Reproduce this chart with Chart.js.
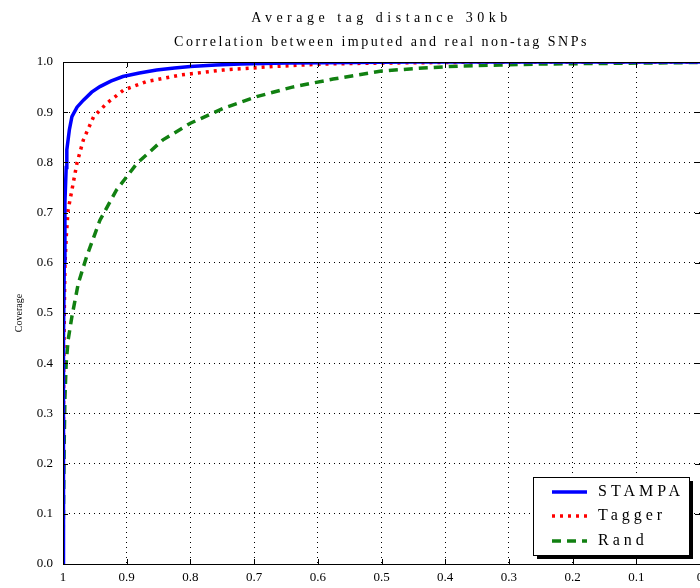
<!DOCTYPE html>
<html>
<head>
<meta charset="utf-8">
<script src="https://cdn.jsdelivr.net/npm/chart.js@4/dist/chart.umd.min.js"></script>
<style>
  html, body { margin: 0; padding: 0; background: #fff; overflow: hidden; width: 700px; height: 588px; }
  canvas { display: block; }
</style>
</head>
<body>
<canvas id="c" width="720" height="588"></canvas>
<script>
// ---- data ----
const titleLines = ['Average tag distance 30kb', 'Correlation between imputed and real non-tag SNPs'];
const yAxisTitle = 'Coverage';
const seriesNames = ['STAMPA', 'Tagger', 'Rand'];
const xTickLabels = ['0', '0.1', '0.2', '0.3', '0.4', '0.5', '0.6', '0.7', '0.8', '0.9', '1'];
const yTickLabels = ['0.0', '0.1', '0.2', '0.3', '0.4', '0.5', '0.6', '0.7', '0.8', '0.9', '1.0'];

const stampaX = [1.0, 0.9995, 0.999, 0.998, 0.997, 0.995, 0.994, 0.99, 0.986, 0.978, 0.968, 0.955, 0.942, 0.925, 0.906, 0.88, 0.853, 0.825, 0.8, 0.76, 0.722, 0.65, 0.55, 0.45, 0.3, 0.0];
const stampaY = [0.0, 0.25, 0.45, 0.6, 0.72, 0.79, 0.825, 0.865, 0.891, 0.91, 0.924, 0.94, 0.951, 0.962, 0.971, 0.978, 0.984, 0.988, 0.991, 0.994, 0.996, 0.998, 0.999, 1.0, 1.0, 1.0];

const taggerX = [1.0, 0.9995, 0.999, 0.998, 0.997, 0.995, 0.992, 0.986, 0.978, 0.968, 0.952, 0.931, 0.905, 0.869, 0.816, 0.749, 0.67, 0.592, 0.5, 0.4, 0.3, 0.2, 0.0];
const taggerY = [0.0, 0.2, 0.38, 0.5, 0.592, 0.65, 0.705, 0.745, 0.799, 0.845, 0.891, 0.918, 0.944, 0.961, 0.974, 0.984, 0.991, 0.996, 0.998, 0.999, 1.0, 1.0, 1.0];

const randX = [1.0, 0.9995, 0.999, 0.998, 0.997, 0.995, 0.992, 0.986, 0.976, 0.963, 0.942, 0.916, 0.884, 0.843, 0.8, 0.748, 0.696, 0.64, 0.576, 0.5, 0.435, 0.377, 0.314, 0.251, 0.168, 0.078, 0.0];
const randY = [0.0, 0.08, 0.14, 0.25, 0.33, 0.40, 0.446, 0.493, 0.559, 0.612, 0.685, 0.745, 0.798, 0.845, 0.878, 0.908, 0.931, 0.95, 0.966, 0.982, 0.988, 0.992, 0.994, 0.996, 0.997, 0.998, 0.999];

const toPts = (xs, ys) => xs.map((x, i) => ({ x: x, y: ys[i] }));

const SERIF = '"Liberation Serif", "DejaVu Serif", serif';

// ---- plugins ----
const titlePlugin = {
  id: 'matlabTitle',
  afterDraw(chart) {
    const { ctx, chartArea } = chart;
    const cx = (chartArea.left + chartArea.right) / 2;
    ctx.save();
    ctx.fillStyle = '#000';
    ctx.textAlign = 'center';
    ctx.textBaseline = 'middle';
    ctx.font = '14px ' + SERIF;
    const spacing = ['4.5px', '2.5px'];
    const ys = [18, 42];
    titleLines.forEach((t, i) => {
      if ('letterSpacing' in ctx) ctx.letterSpacing = spacing[i];
      ctx.fillText(t, cx, ys[i]);
    });
    ctx.restore();
  }
};

const framePlugin = {
  id: 'frame',
  afterDatasetsDraw(chart) {
    const { ctx, chartArea, scales } = chart;
    ctx.save();
    ctx.strokeStyle = '#000';
    ctx.lineWidth = 1;
    ctx.strokeRect(chartArea.left + 0.5, chartArea.top + 0.5, chartArea.right - chartArea.left, chartArea.bottom - chartArea.top);
    ctx.beginPath();
    scales.x.ticks.forEach(t => {
      const px = Math.round(scales.x.getPixelForValue(t.value)) + 0.5;
      ctx.moveTo(px, chartArea.bottom); ctx.lineTo(px, chartArea.bottom - 5);
      ctx.moveTo(px, chartArea.top); ctx.lineTo(px, chartArea.top + 5);
    });
    scales.y.ticks.forEach(t => {
      const py = Math.round(scales.y.getPixelForValue(t.value)) + 0.5;
      ctx.moveTo(chartArea.left, py); ctx.lineTo(chartArea.left + 5, py);
      ctx.moveTo(chartArea.right, py); ctx.lineTo(chartArea.right - 5, py);
    });
    ctx.stroke();
    ctx.restore();
  }
};

const legendPlugin = {
  id: 'matlabLegend',
  afterDraw(chart) {
    const { ctx, chartArea } = chart;
    const w = 156, h = 78;
    const right = chartArea.right - 11, bottom = chartArea.bottom - 9;
    const left = right - w, top = bottom - h;
    ctx.save();
    ctx.fillStyle = '#000';
    ctx.fillRect(left + 4, top + 4, w, h);
    ctx.fillStyle = '#fff';
    ctx.fillRect(left, top, w, h);
    ctx.strokeStyle = '#000';
    ctx.lineWidth = 1;
    ctx.strokeRect(left + 0.5, top + 0.5, w, h);
    const rows = [15, 39, 64];
    chart.data.datasets.forEach((ds, i) => {
      const y = top + rows[i];
      ctx.beginPath();
      ctx.strokeStyle = ds.borderColor;
      ctx.lineWidth = ds.borderWidth;
      ctx.setLineDash(ds.borderDash || []);
      ctx.moveTo(left + 19, y);
      ctx.lineTo(left + 54, y);
      ctx.stroke();
      ctx.setLineDash([]);
      ctx.fillStyle = '#000';
      ctx.font = '16px ' + SERIF;
      ctx.textAlign = 'left';
      ctx.textBaseline = 'middle';
      if ('letterSpacing' in ctx) ctx.letterSpacing = '4px';
      ctx.fillText(ds.label, left + 65, y);
    });
    ctx.restore();
  }
};

new Chart(document.getElementById('c'), {
  type: 'line',
  data: {
    datasets: [
      { label: seriesNames[0], data: toPts(stampaX, stampaY), borderColor: '#0000ff', borderWidth: 3.5, borderDash: [], pointRadius: 0, tension: 0, fill: false },
      { label: seriesNames[1], data: toPts(taggerX, taggerY), borderColor: '#ff0000', borderWidth: 3.5, borderDash: [3, 5], pointRadius: 0, tension: 0, fill: false },
      { label: seriesNames[2], data: toPts(randX, randY), borderColor: '#118011', borderWidth: 3.5, borderDash: [9, 6], pointRadius: 0, tension: 0, fill: false }
    ]
  },
  options: {
    responsive: false,
    animation: false,
    layout: { padding: { top: 62, right: 20, left: 0, bottom: 0 } },
    plugins: { legend: { display: false }, title: { display: false }, tooltip: { enabled: false } },
    scales: {
      x: {
        type: 'linear', min: 0, max: 1, reverse: true,
        afterFit: s => { s.height = 24; },
        ticks: { stepSize: 0.1, color: '#000', font: { family: SERIF, size: 13 }, padding: 6, maxRotation: 0, autoSkip: false,
                 callback: v => xTickLabels[Math.round(v * 10)] },
        grid: { color: '#000', lineWidth: 1, drawTicks: false, borderDash: [1, 4] },
        border: { display: true, color: '#000', width: 1, dash: [1, 4] }
      },
      y: {
        type: 'linear', min: 0, max: 1,
        afterFit: s => { s.width = 63; },
        ticks: { stepSize: 0.1, color: '#000', font: { family: SERIF, size: 13 }, padding: 10,
                 callback: v => yTickLabels[Math.round(v * 10)] },
        grid: { color: '#000', lineWidth: 1, drawTicks: false, borderDash: [1, 4] },
        border: { display: true, color: '#000', width: 1, dash: [1, 4] },
        title: { display: true, text: yAxisTitle, color: '#000', font: { family: SERIF, size: 10 }, padding: { top: 13, bottom: 0 } }
      }
    }
  },
  plugins: [titlePlugin, framePlugin, legendPlugin]
});
</script>
</body>
</html>
